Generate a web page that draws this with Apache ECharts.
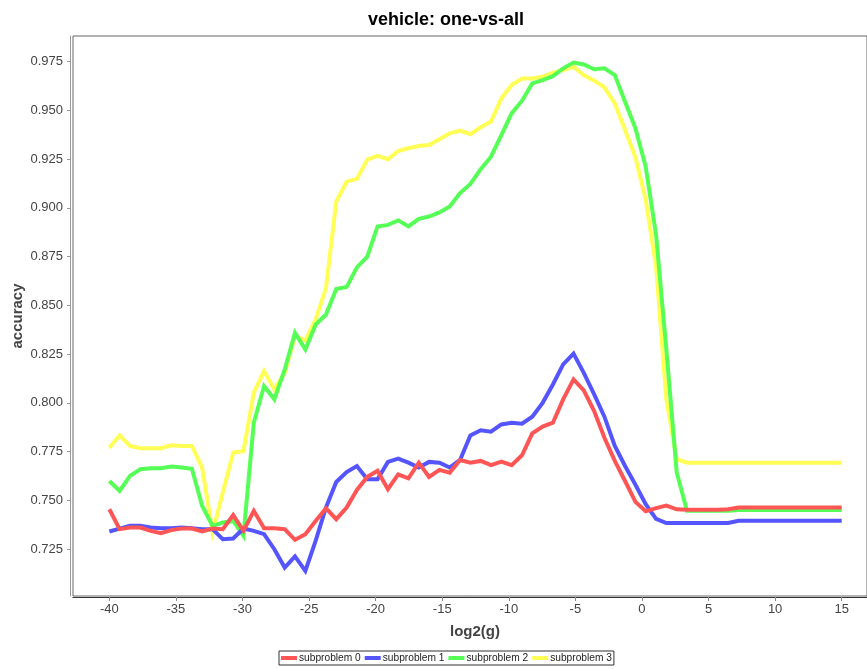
<!DOCTYPE html>
<html>
<head>
<meta charset="utf-8">
<title>vehicle: one-vs-all</title>
<script src="https://cdn.jsdelivr.net/npm/echarts@6/dist/echarts.min.js"></script>
<style>
  html, body { margin: 0; padding: 0; background: #ffffff; }
  #chart { width: 867px; height: 669px; }
</style>
</head>
<body>
<div id="chart"></div>
<script>
// log2(g) grid of the parameter sweep
const log2g = [
  -40.00, -39.23, -38.45, -37.68, -36.90, -36.13, -35.35, -34.58, -33.80, -33.03,
  -32.25, -31.48, -30.70, -29.93, -29.15, -28.38, -27.61, -26.83, -26.06, -25.28,
  -24.51, -23.73, -22.96, -22.18, -21.41, -20.63, -19.86, -19.08, -18.31, -17.54,
  -16.76, -15.99, -15.21, -14.44, -13.66, -12.89, -12.11, -11.34, -10.56, -9.79,
  -9.01, -8.24, -7.46, -6.69, -5.92, -5.14, -4.37, -3.59, -2.82, -2.04,
  -1.27, -0.49, 0.28, 1.06, 1.83, 2.61, 3.38, 4.15, 4.93, 5.70,
  6.48, 7.25, 8.03, 8.80, 9.58, 10.35, 11.13, 11.90, 12.68, 13.45,
  14.23, 15.00
];

// accuracy per subproblem
const subproblem0 = [
  0.7454, 0.7352, 0.7360, 0.7360, 0.7343, 0.7331, 0.7347, 0.7355, 0.7355, 0.7340,
  0.7355, 0.7352, 0.7424, 0.7343, 0.7446, 0.7357, 0.7357, 0.7352, 0.7297, 0.7326,
  0.7394, 0.7459, 0.7403, 0.7463, 0.7553, 0.7620, 0.7651, 0.7557, 0.7633, 0.7613,
  0.7693, 0.7620, 0.7656, 0.7642, 0.7707, 0.7693, 0.7702, 0.7680, 0.7698, 0.7680,
  0.7731, 0.7843, 0.7878, 0.7898, 0.8018, 0.8120, 0.8064, 0.7958, 0.7821, 0.7702,
  0.7599, 0.7492, 0.7444, 0.7460, 0.7473, 0.7454, 0.7451, 0.7451, 0.7451, 0.7451,
  0.7454, 0.7463, 0.7463, 0.7463, 0.7463, 0.7463, 0.7463, 0.7463, 0.7463, 0.7463,
  0.7463, 0.7463
];
const subproblem1 = [
  0.7340, 0.7355, 0.7369, 0.7369, 0.7360, 0.7357, 0.7357, 0.7360, 0.7357, 0.7352,
  0.7352, 0.7300, 0.7304, 0.7355, 0.7343, 0.7326, 0.7249, 0.7155, 0.7212, 0.7138,
  0.7292, 0.7463, 0.7594, 0.7645, 0.7676, 0.7608, 0.7608, 0.7697, 0.7714, 0.7693,
  0.7668, 0.7697, 0.7693, 0.7668, 0.7707, 0.7833, 0.7859, 0.7852, 0.7889, 0.7898,
  0.7893, 0.7929, 0.8000, 0.8094, 0.8197, 0.8253, 0.8154, 0.8043, 0.7929, 0.7779,
  0.7676, 0.7580, 0.7480, 0.7405, 0.7383, 0.7384, 0.7384, 0.7384, 0.7384, 0.7384,
  0.7384, 0.7395, 0.7395, 0.7395, 0.7395, 0.7395, 0.7395, 0.7395, 0.7395, 0.7395,
  0.7395, 0.7395
];
const subproblem2 = [
  0.7599, 0.7548, 0.7625, 0.7659, 0.7664, 0.7664, 0.7673, 0.7668, 0.7662, 0.7471,
  0.7369, 0.7386, 0.7394, 0.7318, 0.7898, 0.8086, 0.8018, 0.8171, 0.8359, 0.8274,
  0.8401, 0.8453, 0.8584, 0.8594, 0.8695, 0.8750, 0.8905, 0.8913, 0.8936, 0.8905,
  0.8944, 0.8956, 0.8977, 0.9007, 0.9076, 0.9123, 0.9199, 0.9263, 0.9374, 0.9485,
  0.9550, 0.9639, 0.9656, 0.9676, 0.9716, 0.9746, 0.9736, 0.9711, 0.9716, 0.9682,
  0.9545, 0.9408, 0.9212, 0.8863, 0.8274, 0.7643, 0.7446, 0.7446, 0.7446, 0.7446,
  0.7446, 0.7450, 0.7450, 0.7450, 0.7450, 0.7450, 0.7450, 0.7450, 0.7450, 0.7450,
  0.7450, 0.7450
];
const subproblem3 = [
  0.7770, 0.7833, 0.7779, 0.7767, 0.7767, 0.7767, 0.7782, 0.7779, 0.7779, 0.7668,
  0.7335, 0.7540, 0.7744, 0.7753, 0.8052, 0.8163, 0.8069, 0.8154, 0.8342, 0.8320,
  0.8427, 0.8589, 0.9033, 0.9135, 0.9149, 0.9248, 0.9267, 0.9250, 0.9292, 0.9306,
  0.9318, 0.9323, 0.9352, 0.9383, 0.9397, 0.9378, 0.9414, 0.9443, 0.9562, 0.9630,
  0.9664, 0.9664, 0.9673, 0.9694, 0.9707, 0.9724, 0.9682, 0.9653, 0.9618, 0.9536,
  0.9400, 0.9260, 0.9042, 0.8700, 0.8018, 0.7711, 0.7693, 0.7693, 0.7693, 0.7693,
  0.7693, 0.7693, 0.7693, 0.7693, 0.7693, 0.7693, 0.7693, 0.7693, 0.7693, 0.7693,
  0.7693, 0.7693
];

const seriesNames = ['subproblem 0', 'subproblem 1', 'subproblem 2', 'subproblem 3'];
const seriesValues = [subproblem0, subproblem1, subproblem2, subproblem3];
const seriesColors = ['#ff5555', '#5555ff', '#55ff55', '#ffff55'];

// tick labels
const xTicks = [-40, -35, -30, -25, -20, -15, -10, -5, 0, 5, 10, 15];
const yTicks = [0.725, 0.750, 0.775, 0.800, 0.825, 0.850, 0.875, 0.900, 0.925, 0.950, 0.975];

const FONT = '"Liberation Sans", Arial, Helvetica, sans-serif';

const chart = echarts.init(document.getElementById('chart'), null, { renderer: 'canvas' });

const series = seriesNames.map((name, k) => ({
  name: name,
  type: 'line',
  data: log2g.map((x, i) => [x, seriesValues[k][i]]),
  showSymbol: false,
  symbol: 'none',
  color: seriesColors[k],
  lineStyle: { width: 4, color: seriesColors[k], join: 'miter' },
  z: 10 - k,
  silent: true
}));

chart.setOption({
  animation: false,
  backgroundColor: '#ffffff',
  textStyle: { fontFamily: FONT },
  title: {
    text: 'vehicle: one-vs-all',
    left: 446,
    top: 11,
    padding: 0,
    textAlign: 'center',
    textStyle: { fontFamily: FONT, fontSize: 18, fontWeight: 'bold', color: '#000000' }
  },
  legend: {
    data: seriesNames,
    left: 279,
    top: 651,
    padding: [2, 2, 2, 2],
    borderColor: '#333333',
    borderWidth: 1,
    itemGap: 4,
    itemWidth: 16,
    itemHeight: 4,
    icon: 'rect',
    selectedMode: false,
    textStyle: { fontFamily: FONT, fontSize: 10.2, color: '#222222', padding: [0, 0, 0, -3] }
  },
  grid: {
    left: 73,
    right: 0,
    top: 36,
    bottom: 73,
    outerBoundsMode: 'none',
    containLabel: false,
    show: true,
    borderColor: '#666666',
    borderWidth: 1,
    backgroundColor: '#ffffff'
  },
  xAxis: {
    type: 'value',
    min: -42.73,
    max: 16.9,
    offset: 1,
    name: 'log2(g)',
    nameLocation: 'middle',
    nameGap: 27,
    nameMoveOverlap: false,
    nameTextStyle: { fontFamily: FONT, fontSize: 15, fontWeight: 'bold', color: '#444444', padding: [0, 0, 0, 10] },
    axisLine: { show: true, onZero: false, lineStyle: { color: '#333333', width: 1 } },
    axisTick: { show: true, length: 4, lineStyle: { color: '#888888' }, customValues: xTicks },
    axisLabel: {
      show: true, margin: 6, fontSize: 13, color: '#444444', fontFamily: FONT,
      customValues: xTicks,
      formatter: v => String(v)
    },
    splitLine: { show: false }
  },
  yAxis: {
    type: 'value',
    min: 0.7009,
    max: 0.9882,
    offset: 3,
    name: 'accuracy',
    nameLocation: 'middle',
    nameGap: 45,
    nameMoveOverlap: false,
    nameTextStyle: { fontFamily: FONT, fontSize: 15, fontWeight: 'bold', color: '#444444' },
    axisLine: { show: true, onZero: false, lineStyle: { color: '#999999', width: 1 } },
    axisTick: { show: true, length: 3, lineStyle: { color: '#999999' }, customValues: yTicks },
    axisLabel: {
      show: true, margin: 7, fontSize: 13, color: '#444444', fontFamily: FONT,
      customValues: yTicks,
      formatter: v => v.toFixed(3)
    },
    splitLine: { show: false }
  },
  series: series
});
</script>
</body>
</html>
